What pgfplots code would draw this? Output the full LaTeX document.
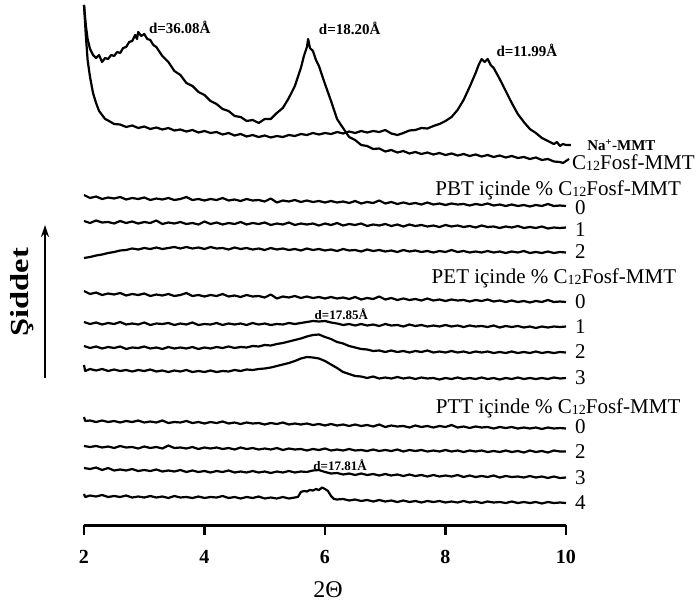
\documentclass[border=0pt]{standalone}
\usepackage{pgfplots}
\pgfplotsset{compat=1.18}
\usepackage{fontspec}
\setmainfont{Liberation Serif}
\usetikzlibrary{arrows.meta}
\newcommand{\fs}[1]{\fontsize{#1}{#1}\selectfont}
\newcommand{\Csub}{C\raisebox{-1pt}{\fs{14}12}Fosf-MMT}

\begin{document}
\begin{tikzpicture}
\path[use as bounding box] (-84pt,-81pt) rectangle (615pt,525pt);
\begin{axis}[
  at={(0,0)}, anchor=south west,
  x=60.25pt, y=1pt,
  xmin=2, xmax=10, ymin=0, ymax=525,
  axis x line=bottom, axis y line=none,
  axis line style={-, line width=3pt},
  xtick={2,4,6,8,10}, xticklabels={},
  tick align=outside, major tick length=10pt,
  tick style={black, line width=2.5pt},
  clip=false,
  cycle list={{black, solid}},
  every axis plot/.append style={line width=2.2pt, no marks, line join=round},
]
% Na+-MMT
\addplot coordinates {(2.0,520) (2.03,490) (2.06,465) (2.1,448) (2.15,432) (2.2,422) (2.25,414) (2.3,410) (2.35,406) (2.4,404.5) (2.5,401) (2.6,400.5) (2.7,398) (2.8,399.5) (2.9,397) (3.0,398.5) (3.1,396) (3.2,397.5) (3.3,395.5) (3.4,397) (3.5,394.5) (3.6,395.5) (3.7,393.5) (3.8,395) (3.9,392.5) (4.0,394) (4.1,392) (4.2,393) (4.3,390.5) (4.4,392) (4.5,389.5) (4.6,391) (4.7,388.5) (4.8,390) (4.9,388) (5.0,389.5) (5.1,387.5) (5.2,389) (5.3,388) (5.4,390) (5.5,389) (5.6,391) (5.7,390) (5.8,392) (5.9,390.5) (6.0,392) (6.1,391) (6.2,393) (6.3,391.5) (6.4,393.5) (6.5,392) (6.6,394) (6.7,392.5) (6.8,394) (6.9,393) (7.0,395) (7.1,391.5) (7.2,390) (7.3,392) (7.4,394.5) (7.5,395) (7.6,397) (7.7,396.5) (7.8,399) (7.9,401) (8.0,404) (8.1,408) (8.2,415) (8.3,425) (8.4,438) (8.5,452) (8.55,460) (8.6,466) (8.65,463) (8.7,466) (8.75,460) (8.8,457) (8.9,446) (9.0,434) (9.1,422) (9.2,411) (9.3,403) (9.4,396) (9.5,392) (9.6,387) (9.7,384) (9.8,381) (9.85,383) (9.9,379) (9.95,381) (10.0,380) (10.08,380)};
% C12Fosf-MMT
\addplot coordinates {(2.0,520) (2.03,500) (2.06,486) (2.1,476) (2.15,470) (2.2,467) (2.25,470) (2.3,463) (2.35,467) (2.4,466) (2.45,470) (2.5,469) (2.55,473) (2.6,472) (2.65,477) (2.7,478) (2.75,483) (2.8,484) (2.85,490) (2.88,486) (2.9,493) (2.95,489) (3.0,491) (3.05,486) (3.1,485) (3.15,480) (3.2,478) (3.3,469) (3.4,463) (3.5,454) (3.6,450) (3.7,442) (3.8,439) (3.9,433) (4.0,430) (4.1,424) (4.2,421) (4.3,416) (4.4,414) (4.5,409) (4.6,408) (4.7,404) (4.8,405) (4.9,402) (5.0,406) (5.1,406) (5.2,412) (5.3,417) (5.4,427) (5.5,439) (5.55,448) (5.6,457) (5.65,469) (5.7,478) (5.72,486) (5.75,477) (5.8,474) (5.85,465) (5.9,459) (6.0,441) (6.1,424) (6.2,406) (6.3,397) (6.4,388) (6.5,385) (6.6,380) (6.7,379) (6.8,376) (6.9,376.5) (7.0,373.5) (7.1,375) (7.2,372.5) (7.3,374) (7.4,371.5) (7.5,373) (7.6,371) (7.7,372.5) (7.8,370.5) (7.9,372) (8.0,370) (8.1,371.5) (8.2,369.5) (8.3,371) (8.4,369) (8.5,370.5) (8.6,368.5) (8.7,370) (8.8,368) (8.9,369.5) (9.0,367.5) (9.1,369) (9.2,367) (9.3,368) (9.4,366) (9.5,367.5) (9.6,365) (9.7,366) (9.8,363.5) (9.9,363) (9.95,362) (10.0,364) (10.05,366)};
% PBT 0
\addplot coordinates {(2.0,330) (2.1,327) (2.2,328.5) (2.3,326) (2.4,327.5) (2.5,326.5) (2.6,328) (2.7,325.5) (2.8,327) (2.9,326) (3.0,327.5) (3.1,325) (3.2,326.5) (3.3,325.5) (3.4,327) (3.5,325) (3.6,326) (3.7,328) (3.8,325) (3.9,326) (4.0,324.5) (4.1,326) (4.2,325) (4.3,327) (4.4,324.5) (4.5,325.5) (4.6,324) (4.7,326) (4.8,324.5) (4.9,325) (5.0,323.5) (5.1,326.5) (5.2,322.5) (5.3,324.5) (5.4,323.5) (5.5,325) (5.6,323) (5.7,324.5) (5.8,323) (5.9,324) (6.0,322.5) (6.1,324) (6.2,322.5) (6.3,323.5) (6.4,322) (6.5,324) (6.6,321.5) (6.7,323) (6.8,322) (6.9,324.5) (7.0,321.5) (7.1,323) (7.2,321) (7.3,322.5) (7.4,321) (7.5,322) (7.6,320.5) (7.7,322.5) (7.8,320.5) (7.9,321.5) (8.0,320) (8.1,321.5) (8.2,320.5) (8.3,321) (8.4,319.5) (8.5,321) (8.6,320) (8.7,321.5) (8.8,319.5) (8.9,320.5) (9.0,319) (9.1,320.5) (9.2,319) (9.3,320) (9.4,318.5) (9.5,320) (9.6,319) (9.7,321) (9.8,319) (9.9,319.5) (10.0,319)};
% PBT 1
\addplot coordinates {(2.0,304) (2.1,302) (2.2,304.5) (2.3,302.5) (2.4,303) (2.5,301.5) (2.6,304) (2.7,302) (2.8,303.5) (2.9,301.5) (3.0,303) (3.1,302) (3.2,304.5) (3.3,301) (3.4,302.5) (3.5,301.5) (3.6,303) (3.7,301) (3.8,302) (3.9,300.5) (4.0,303.5) (4.1,301) (4.2,302.5) (4.3,300.5) (4.4,302) (4.5,301) (4.6,303) (4.7,300.5) (4.8,302) (4.9,301) (5.0,302.5) (5.1,300) (5.2,301.5) (5.3,300.5) (5.4,302.5) (5.5,300) (5.6,301.5) (5.7,300.5) (5.8,301.5) (5.9,299.5) (6.0,301.5) (6.1,300) (6.2,302) (6.3,299.5) (6.4,301) (6.5,300) (6.6,301.5) (6.7,299) (6.8,300.5) (6.9,299.5) (7.0,301) (7.1,299) (7.2,300.5) (7.3,298.5) (7.4,300.5) (7.5,299) (7.6,300) (7.7,298.5) (7.8,299.5) (7.9,298) (8.0,300) (8.1,298.5) (8.2,299.5) (8.3,298) (8.4,299) (8.5,297.5) (8.6,299.5) (8.7,298) (8.8,298.5) (8.9,297) (9.0,298.5) (9.1,297.5) (9.2,299) (9.3,297) (9.4,298) (9.5,297) (9.6,298.5) (9.7,296.5) (9.8,297.5) (9.9,297) (10.0,297.5)};
% PBT 2
\addplot coordinates {(2.0,267) (2.1,268) (2.2,269.5) (2.3,270.5) (2.4,272) (2.5,273) (2.6,274.5) (2.7,275) (2.8,276.5) (2.9,275.5) (3.0,277) (3.1,276) (3.2,277.5) (3.3,276) (3.4,277) (3.5,278) (3.6,276.5) (3.7,278) (3.8,276.5) (3.9,277.5) (4.0,276) (4.1,278) (4.2,276.5) (4.3,277) (4.4,275.5) (4.5,277.5) (4.6,276) (4.7,277) (4.8,275.5) (4.9,276.5) (5.0,275) (5.1,277) (5.2,275.5) (5.3,276.5) (5.4,275) (5.5,276) (5.6,274.5) (5.7,276.5) (5.8,275) (5.9,276) (6.0,274.5) (6.1,275.5) (6.2,274) (6.3,276) (6.4,274.5) (6.5,275) (6.6,273.5) (6.7,275.5) (6.8,274) (6.9,275) (7.0,273.5) (7.1,274.5) (7.2,273) (7.3,275) (7.4,273.5) (7.5,274.5) (7.6,273) (7.7,274) (7.8,272.5) (7.9,274) (8.0,273) (8.1,275) (8.2,273) (8.3,274) (8.4,272.5) (8.5,273.5) (8.6,272.5) (8.7,274) (8.8,272.5) (8.9,273.5) (9.0,272) (9.1,273.5) (9.2,272.5) (9.3,274) (9.4,272) (9.5,273) (9.6,272) (9.7,273.5) (9.8,272) (9.9,273) (10.0,272.5)};
% PET 0
\addplot coordinates {(2.0,234) (2.1,231) (2.2,232.5) (2.3,230) (2.4,231.5) (2.5,230.5) (2.6,232) (2.7,229.5) (2.8,231) (2.9,230) (3.0,231.5) (3.1,229) (3.2,230.5) (3.3,229.5) (3.4,231) (3.5,229) (3.6,230) (3.7,232) (3.8,229) (3.9,230) (4.0,228.5) (4.1,230) (4.2,229) (4.3,231) (4.4,228.5) (4.5,229.5) (4.6,228) (4.7,230) (4.8,228.5) (4.9,229) (5.0,227.5) (5.1,230.5) (5.2,226.5) (5.3,228.5) (5.4,227.5) (5.5,229) (5.6,227) (5.7,228.5) (5.8,227) (5.9,228) (6.0,226.5) (6.1,228) (6.2,226.5) (6.3,227.5) (6.4,226) (6.5,228) (6.6,225.5) (6.7,227) (6.8,226) (6.9,228.5) (7.0,225.5) (7.1,227) (7.2,225) (7.3,226.5) (7.4,225) (7.5,226) (7.6,224.5) (7.7,226.5) (7.8,224.5) (7.9,225.5) (8.0,224) (8.1,225.5) (8.2,224.5) (8.3,225) (8.4,223.5) (8.5,225) (8.6,224) (8.7,225.5) (8.8,223.5) (8.9,224.5) (9.0,223) (9.1,224.5) (9.2,223) (9.3,224) (9.4,222.5) (9.5,224) (9.6,223) (9.7,225) (9.8,223) (9.9,223.5) (10.0,223)};
% PET 1
\addplot coordinates {(2.0,203) (2.1,201) (2.2,202.5) (2.3,200.5) (2.4,202) (2.5,201) (2.6,203) (2.7,200.5) (2.8,201.5) (2.9,200.5) (3.0,202.5) (3.1,200) (3.2,201.5) (3.3,201) (3.4,202) (3.5,200) (3.6,201.5) (3.7,200.5) (3.8,202.5) (3.9,200) (4.0,201) (4.1,200.5) (4.2,202) (4.3,200) (4.4,201.5) (4.5,200.5) (4.6,201.5) (4.7,200) (4.8,202) (4.9,200.5) (5.0,201.5) (5.1,200) (5.2,201) (5.3,200.5) (5.4,202) (5.5,201) (5.6,202) (5.7,203) (5.8,204) (5.9,203.5) (6.0,204) (6.1,202.5) (6.2,201.5) (6.3,200) (6.4,201) (6.5,199.5) (6.6,201) (6.7,199.5) (6.8,200.5) (6.9,199) (7.0,201) (7.1,199.5) (7.2,200) (7.3,198.5) (7.4,200.5) (7.5,199) (7.6,200) (7.7,198.5) (7.8,199.5) (7.9,198.5) (8.0,200) (8.1,198.5) (8.2,199.5) (8.3,198) (8.4,199.5) (8.5,198.5) (8.6,199) (8.7,198) (8.8,199.5) (8.9,197.5) (9.0,199) (9.1,198) (9.2,199) (9.3,197.5) (9.4,198.5) (9.5,197) (9.6,198.5) (9.7,197.5) (9.8,198.5) (9.9,198) (10.0,198.5)};
% PET 2
\addplot coordinates {(2.0,179) (2.1,177) (2.2,178.5) (2.3,176.5) (2.4,178) (2.5,177) (2.6,178.5) (2.7,176) (2.8,177.5) (2.9,177) (3.0,178.5) (3.1,176.5) (3.2,177.5) (3.3,176) (3.4,178) (3.5,176.5) (3.6,177.5) (3.7,176.5) (3.8,178) (3.9,176) (4.0,177.5) (4.1,176.5) (4.2,178) (4.3,177) (4.4,178.5) (4.5,177) (4.6,178) (4.7,177.5) (4.8,179) (4.9,178.5) (5.0,180) (5.1,179.5) (5.2,181) (5.3,182) (5.4,183.5) (5.5,185) (5.6,186.5) (5.7,188.5) (5.8,190) (5.9,190.5) (6.0,188) (6.1,186) (6.2,183) (6.3,181.5) (6.4,179) (6.5,177.5) (6.6,176) (6.7,175.5) (6.8,174) (6.9,174.5) (7.0,173) (7.1,174.5) (7.2,173) (7.3,174) (7.4,172.5) (7.5,174) (7.6,173) (7.7,174.5) (7.8,172.5) (7.9,173.5) (8.0,172.5) (8.1,174) (8.2,172.5) (8.3,173.5) (8.4,172) (8.5,173.5) (8.6,172.5) (8.7,173.5) (8.8,172) (8.9,173) (9.0,172) (9.1,173.5) (9.2,172) (9.3,173) (9.4,172) (9.5,173.5) (9.6,172) (9.7,173) (9.8,172) (9.9,173) (10.0,172.5)};
% PET 3
\addplot coordinates {(2.0,160) (2.02,154) (2.1,156) (2.2,154.5) (2.3,156) (2.4,154) (2.5,155.5) (2.6,154) (2.7,155) (2.8,153.5) (2.9,155) (3.0,154) (3.1,155.5) (3.2,153.5) (3.3,154.5) (3.4,153) (3.5,154.5) (3.6,153.5) (3.7,155) (3.8,153) (3.9,154) (4.0,153) (4.1,154.5) (4.2,153) (4.3,154) (4.4,153.5) (4.5,155) (4.6,154) (4.7,155.5) (4.8,155) (4.9,156) (5.0,156.5) (5.1,157.5) (5.2,159) (5.3,160.5) (5.4,162) (5.5,164) (5.6,166.5) (5.7,168) (5.8,167.5) (5.9,166.5) (6.0,164) (6.1,160.5) (6.2,157) (6.3,153) (6.4,151) (6.5,149) (6.6,148.5) (6.7,147) (6.8,148.5) (6.9,146.5) (7.0,147.5) (7.1,146.5) (7.2,148) (7.3,146.5) (7.4,147.5) (7.5,146) (7.6,147.5) (7.7,146.5) (7.8,147) (7.9,145.5) (8.0,147) (8.1,146) (8.2,147.5) (8.3,146) (8.4,147) (8.5,146) (8.6,147.5) (8.7,146) (8.8,147) (8.9,145.5) (9.0,147) (9.1,146) (9.2,147.5) (9.3,146) (9.4,147) (9.5,146) (9.6,147) (9.7,146) (9.8,147.5) (9.9,146.5) (10.0,147)};
% PTT 0
\addplot coordinates {(2.0,108) (2.02,104) (2.1,104.5) (2.2,103) (2.3,104.5) (2.4,103) (2.5,104) (2.6,102.5) (2.7,104) (2.8,103) (2.9,104.5) (3.0,102.5) (3.1,103.5) (3.2,102.5) (3.3,104.5) (3.4,102) (3.5,103) (3.6,102.5) (3.7,104) (3.8,102) (3.9,103) (4.0,101.5) (4.1,103) (4.2,102) (4.3,103.5) (4.4,101.5) (4.5,102.5) (4.6,101) (4.7,102.5) (4.8,101.5) (4.9,102) (5.0,100.5) (5.1,102) (5.2,101) (5.3,102.5) (5.4,100.5) (5.5,101.5) (5.6,100.5) (5.7,101.5) (5.8,100) (5.9,101) (6.0,99.5) (6.1,101) (6.2,99.5) (6.3,100.5) (6.4,99) (6.5,100.5) (6.6,99) (6.7,100) (6.8,98.5) (6.9,100.5) (7.0,98) (7.1,99.5) (7.2,98.5) (7.3,99) (7.4,97.5) (7.5,99.5) (7.6,98) (7.7,99) (7.8,97.5) (7.9,99) (8.0,98) (8.1,100) (8.2,97.5) (8.3,98.5) (8.4,97) (8.5,98.5) (8.6,97.5) (8.7,98) (8.8,96.5) (8.9,98) (9.0,97) (9.1,98) (9.2,96.5) (9.3,97.5) (9.4,96.5) (9.5,97.5) (9.6,96) (9.7,97.5) (9.8,96.5) (9.9,97) (10.0,96.5)};
% PTT 2
\addplot coordinates {(2.0,79) (2.1,78) (2.2,79) (2.3,77.5) (2.4,78.5) (2.5,77) (2.6,79) (2.7,77.5) (2.8,78) (2.9,76.5) (3.0,78.5) (3.1,77) (3.2,78) (3.3,76.5) (3.4,79.5) (3.5,77) (3.6,77.5) (3.7,76.5) (3.8,78) (3.9,76) (4.0,77.5) (4.1,76.5) (4.2,77.5) (4.3,76) (4.4,77) (4.5,75.5) (4.6,77.5) (4.7,76) (4.8,77) (4.9,75.5) (5.0,76.5) (5.1,75.5) (5.2,77) (5.3,75) (5.4,76.5) (5.5,75.5) (5.6,76) (5.7,74.5) (5.8,76) (5.9,75) (6.0,76.5) (6.1,74.5) (6.2,75.5) (6.3,74.5) (6.4,76) (6.5,74.5) (6.6,75) (6.7,74) (6.8,75.5) (6.9,74) (7.0,75) (7.1,74) (7.2,75.5) (7.3,73.5) (7.4,75) (7.5,74) (7.6,75) (7.7,73.5) (7.8,74.5) (7.9,73.5) (8.0,75) (8.1,73.5) (8.2,74.5) (8.3,73) (8.4,74.5) (8.5,73.5) (8.6,74.5) (8.7,73) (8.8,74) (8.9,73) (9.0,74.5) (9.1,73) (9.2,74) (9.3,72.5) (9.4,74.5) (9.5,73) (9.6,74) (9.7,72.5) (9.8,74.5) (9.9,73.5) (10.0,73.5)};
% PTT 3
\addplot coordinates {(2.0,57) (2.1,56) (2.2,57.5) (2.3,55) (2.4,57) (2.5,54.5) (2.6,55.5) (2.7,54.5) (2.8,56) (2.9,54) (3.0,55) (3.1,54) (3.2,55.5) (3.3,53.5) (3.4,54.5) (3.5,53.5) (3.6,55) (3.7,53) (3.8,54.5) (3.9,53) (4.0,54) (4.1,52.5) (4.2,54) (4.3,53) (4.4,54.5) (4.5,52.5) (4.6,53.5) (4.7,52.5) (4.8,54) (4.9,52.5) (5.0,53.5) (5.1,52) (5.2,53.5) (5.3,52.5) (5.4,54) (5.5,52.5) (5.6,53.5) (5.7,53) (5.8,54.5) (5.9,55) (6.0,53) (6.1,51.5) (6.2,52) (6.3,50.5) (6.4,51.5) (6.5,50) (6.6,51.5) (6.7,50) (6.8,51) (6.9,49.5) (7.0,51) (7.1,49.5) (7.2,50.5) (7.3,49) (7.4,50.5) (7.5,49) (7.6,50) (7.7,48.5) (7.8,50) (7.9,48.5) (8.0,49.5) (8.1,48.5) (8.2,50) (8.3,48) (8.4,49.5) (8.5,48) (8.6,49) (8.7,48) (8.8,49.5) (8.9,47.5) (9.0,49) (9.1,48) (9.2,48.5) (9.3,47.5) (9.4,49) (9.5,47.5) (9.6,48.5) (9.7,47) (9.8,48.5) (9.9,47) (10.0,47.5)};
% PTT 4
\addplot coordinates {(2.0,31) (2.02,28) (2.1,29.5) (2.2,28.5) (2.3,30) (2.4,28) (2.5,29) (2.6,28) (2.7,29.5) (2.8,27.5) (2.9,28.5) (3.0,27.5) (3.1,29) (3.2,27.5) (3.3,28.5) (3.4,27) (3.5,29) (3.6,27.5) (3.7,28) (3.8,27) (3.9,28.5) (4.0,27) (4.1,28) (4.2,27.5) (4.3,29) (4.4,27) (4.5,28) (4.6,26.5) (4.7,28) (4.8,27) (4.9,28.5) (5.0,26.5) (5.1,27.5) (5.2,26.5) (5.3,28) (5.4,26.5) (5.5,27.5) (5.55,28) (5.6,33) (5.65,34) (5.7,33.5) (5.75,35) (5.8,34.5) (5.85,36) (5.9,35) (5.95,37.5) (6.0,36) (6.05,34) (6.1,29) (6.15,26) (6.2,25.5) (6.3,26) (6.4,24.5) (6.5,25.5) (6.6,24) (6.7,25) (6.8,23.5) (6.9,25) (7.0,23.5) (7.1,24.5) (7.2,23) (7.3,24.5) (7.4,23) (7.5,24) (7.6,22.5) (7.7,24) (7.8,23) (7.9,24) (8.0,22.5) (8.1,23.5) (8.2,22.5) (8.3,24) (8.4,22.5) (8.5,23.5) (8.6,22) (8.7,23.5) (8.8,22.5) (8.9,23) (9.0,22) (9.1,23.5) (9.2,22) (9.3,23) (9.4,22) (9.5,23) (9.6,21.5) (9.7,23) (9.8,22) (9.9,22.5) (10.0,22)};

% tick labels and axis title
\pgfplotsinvokeforeach{2,4,6,8,10}{
  \node[font=\bfseries\fs{20}] at (axis cs:#1,-32) {#1};
}
\node[font=\fs{24}] at (axis cs:6.05,-65) {2Θ};
% intensity label and arrow
\node[font=\bfseries\fs{26}, rotate=90, xscale=1.25] at (axis cs:0.97,233) {Şiddet};
\draw[line width=2pt, -{Stealth[length=12pt,width=8pt]}] (axis cs:1.353,147) -- (axis cs:1.353,300);
% peak labels
\node[font=\bfseries\fs{15}] at (axis cs:3.59,498) {d=36.08Å};
\node[font=\bfseries\fs{15}] at (axis cs:6.41,497) {d=18.20Å};
\node[font=\bfseries\fs{15}] at (axis cs:9.35,475) {d=11.99Å};
\node[font=\bfseries\fs{13}] at (axis cs:6.27,211) {d=17.85Å};
\node[font=\bfseries\fs{13}] at (axis cs:6.25,60) {d=17.81Å};
% series labels
\node[font=\bfseries\fs{15}, anchor=west, inner sep=0pt] at (axis cs:10.35,380) {Na\textsuperscript{+}-MMT};
\node[font=\fs{21}, anchor=west, inner sep=0pt] at (axis cs:10.1,362) {\Csub};
\node[font=\fs{21}, anchor=base] at (axis cs:9.87,330) {PBT içinde \% \Csub};
\node[font=\fs{21}, anchor=base] at (axis cs:9.80,242) {PET içinde \% \Csub};
\node[font=\fs{21}, anchor=base] at (axis cs:9.87,112) {PTT içinde \% \Csub};
\node[font=\fs{21}, anchor=west, inner sep=0pt] at (axis cs:10.15,317) {0};
\node[font=\fs{21}, anchor=west, inner sep=0pt] at (axis cs:10.15,295) {1};
\node[font=\fs{21}, anchor=west, inner sep=0pt] at (axis cs:10.15,273) {2};
\node[font=\fs{21}, anchor=west, inner sep=0pt] at (axis cs:10.15,223) {0};
\node[font=\fs{21}, anchor=west, inner sep=0pt] at (axis cs:10.15,198) {1};
\node[font=\fs{21}, anchor=west, inner sep=0pt] at (axis cs:10.15,173) {2};
\node[font=\fs{21}, anchor=west, inner sep=0pt] at (axis cs:10.15,147) {3};
\node[font=\fs{21}, anchor=west, inner sep=0pt] at (axis cs:10.15,98) {0};
\node[font=\fs{21}, anchor=west, inner sep=0pt] at (axis cs:10.15,73) {2};
\node[font=\fs{21}, anchor=west, inner sep=0pt] at (axis cs:10.15,47) {3};
\node[font=\fs{21}, anchor=west, inner sep=0pt] at (axis cs:10.15,22) {4};
\end{axis}
\end{tikzpicture}
\end{document}
